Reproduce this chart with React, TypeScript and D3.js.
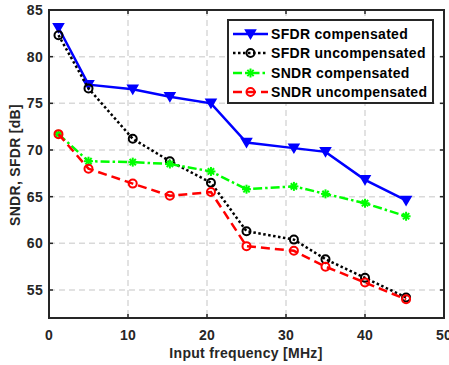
import React from "react";
import * as d3 from "d3";

const freqs = [1.2, 5.0, 10.6, 15.3, 20.5, 25.0, 31.0, 35.0, 40.0, 45.2];
const sfdrComp = [83.1, 77.0, 76.5, 75.7, 75.0, 70.8, 70.2, 69.8, 66.8, 64.6];
const sfdrUncomp = [82.3, 76.6, 71.2, 68.8, 66.5, 61.3, 60.4, 58.3, 56.3, 54.2];
const sndrComp = [71.7, 68.8, 68.7, 68.5, 67.7, 65.8, 66.1, 65.3, 64.3, 62.9];
const sndrUncomp = [71.7, 68.0, 66.4, 65.1, 65.5, 59.7, 59.2, 57.5, 55.8, 54.0];
const xTicks = [0, 10, 20, 30, 40, 50];
const yTicks = [55, 60, 65, 70, 75, 80, 85];
const seriesNames = ["SFDR compensated", "SFDR uncompensated", "SNDR compensated", "SNDR uncompensated"];

const W = 449, H = 365;
const L = 49, R = 444, T = 10, B = 318;

export default function App() {
  const x = d3.scaleLinear().domain([0, 50]).range([L, R]);
  const y = d3.scaleLinear().domain([52, 85]).range([B, T]);
  const line = d3.line<[number, number]>().x(d => x(d[0])).y(d => y(d[1]));
  const font = "Arial, 'Liberation Sans', sans-serif";

  const series = [
    { name: seriesNames[0], vals: sfdrComp, color: "#0000ff", dash: "", marker: "tri" },
    { name: seriesNames[1], vals: sfdrUncomp, color: "#000000", dash: "2.5,2.5", marker: "circ" },
    { name: seriesNames[2], vals: sndrComp, color: "#00ff00", dash: "9,3,2.5,3", marker: "star" },
    { name: seriesNames[3], vals: sndrUncomp, color: "#ff0000", dash: "9,5", marker: "circ" },
  ];

  const marker = (type: string, cx: number, cy: number, color: string, key: any) => {
    if (type === "tri") {
      const s = 5;
      return <path key={key} d={`M${cx - s},${cy - s * 0.8}L${cx + s},${cy - s * 0.8}L${cx},${cy + s * 0.9}Z`} fill={color} stroke={color} strokeWidth={1.5} />;
    }
    if (type === "circ") {
      return <circle key={key} cx={cx} cy={cy} r={4} fill="none" stroke={color} strokeWidth={2} />;
    }
    const s = 4.5;
    return (
      <g key={key} stroke={color} strokeWidth={2}>
        <line x1={cx - s} y1={cy} x2={cx + s} y2={cy} />
        <line x1={cx} y1={cy - s} x2={cx} y2={cy + s} />
        <line x1={cx - s * 0.7} y1={cy - s * 0.7} x2={cx + s * 0.7} y2={cy + s * 0.7} />
        <line x1={cx - s * 0.7} y1={cy + s * 0.7} x2={cx + s * 0.7} y2={cy - s * 0.7} />
      </g>
    );
  };

  const legX = 228, legY = 20, legW = 205, legH = 83;
  const rowY = [34, 53, 73, 92];
  const ls = 0.3;

  return (
    <svg width={W} height={H} style={{ position: "absolute", left: 0, top: 0 }} fontFamily={font}>
      <rect x={0} y={0} width={W} height={H} fill="#ffffff" />
      {xTicks.slice(1, -1).map(t => (
        <line key={"gx" + t} x1={x(t)} x2={x(t)} y1={T} y2={B} stroke="#d9d9d9" strokeWidth={1.5} strokeDasharray="6,4" />
      ))}
      {yTicks.slice(0, -1).map(t => (
        <line key={"gy" + t} x1={L} x2={R} y1={y(t)} y2={y(t)} stroke="#d9d9d9" strokeWidth={1.5} strokeDasharray="6,4" />
      ))}
      {series.map((s, i) => (
        <g key={"s" + i}>
          <path d={line(freqs.map((f, j) => [f, s.vals[j]]) as [number, number][]) || ""} fill="none" stroke={s.color} strokeWidth={2.5} strokeDasharray={s.dash} />
          {freqs.map((f, j) => marker(s.marker, x(f), y(s.vals[j]), s.color, j))}
        </g>
      ))}
      <rect x={L} y={T} width={R - L} height={B - T} fill="none" stroke="#262626" strokeWidth={2} />
      {xTicks.map(t => (
        <g key={"xt" + t}>
          <line x1={x(t)} x2={x(t)} y1={B} y2={B - 4} stroke="#262626" strokeWidth={1.5} />
          <line x1={x(t)} x2={x(t)} y1={T} y2={T + 4} stroke="#262626" strokeWidth={1.5} />
          <text x={x(t)} y={B + 22} textAnchor="middle" fontSize={14} letterSpacing={ls} fontWeight="bold" fill="#262626">{t}</text>
        </g>
      ))}
      {yTicks.map(t => (
        <g key={"yt" + t}>
          <line x1={L} x2={L + 4} y1={y(t)} y2={y(t)} stroke="#262626" strokeWidth={1.5} />
          <line x1={R} x2={R - 4} y1={y(t)} y2={y(t)} stroke="#262626" strokeWidth={1.5} />
          <text x={L - 6} y={y(t) + 5} textAnchor="end" fontSize={14} letterSpacing={ls} fontWeight="bold" fill="#262626">{t}</text>
        </g>
      ))}
      <text x={246} y={358} textAnchor="middle" fontSize={14} letterSpacing={ls} fontWeight="bold" fill="#262626">Input frequency [MHz]</text>
      <text transform={`translate(20,${(T + B) / 2 + 1}) rotate(-90)`} textAnchor="middle" fontSize={14} letterSpacing={ls} fontWeight="bold" fill="#262626">SNDR, SFDR [dB]</text>
      <rect x={legX} y={legY} width={legW} height={legH} fill="#ffffff" stroke="#262626" strokeWidth={2} />
      {series.map((s, i) => (
        <g key={"l" + i}>
          <line x1={233} x2={268} y1={rowY[i]} y2={rowY[i]} stroke={s.color} strokeWidth={2.5} strokeDasharray={s.dash} />
          {marker(s.marker, 250.5, rowY[i], s.color, "m")}
          <text x={271} y={rowY[i] + 5} fontSize={14} letterSpacing={ls} fontWeight="bold" fill="#000">{s.name}</text>
        </g>
      ))}
    </svg>
  );
}
